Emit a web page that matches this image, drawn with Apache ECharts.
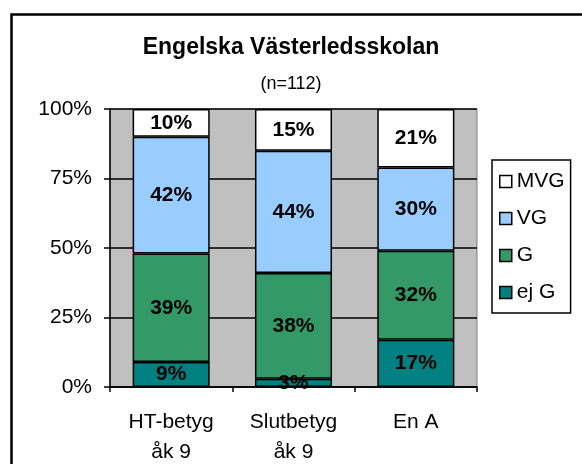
<!DOCTYPE html>
<html>
<head>
<meta charset="utf-8">
<script src="https://cdn.jsdelivr.net/npm/echarts@6/dist/echarts.min.js"></script>
<style>
  html, body { margin: 0; padding: 0; background: #fff; }
  #chart { width: 582px; height: 464px; }
</style>
</head>
<body>
<div id="chart"></div>
<script>
const categories = ['HT-betyg\nåk 9', 'Slutbetyg\nåk 9', 'En A']
const ejG = [9, 3, 17]
const G = [39, 38, 32]
const VG = [42, 44, 30]
const MVG = [10, 15, 21]
const yTicks = [0, 25, 50, 75, 100]

const font = 'Liberation Sans, Arial, sans-serif'

function bar(name, data, color) {
  return {
    type: 'bar',
    name: name,
    stack: 'total',
    data: data,
    barCategoryGap: '37%',
    itemStyle: { color: color, borderColor: '#000', borderWidth: 1.5 },
    label: {
      show: true,
      position: 'inside',
      formatter: '{c}%',
      color: '#000',
      fontWeight: 'bold',
      fontSize: 21,
      fontFamily: font,
    },
  }
}

const chart = echarts.init(document.getElementById('chart'))
chart.setOption({
  animation: false,
  textStyle: { fontFamily: font },
  graphic: [
    {
      type: 'rect',
      left: 9,
      top: 12,
      shape: { width: 620, height: 520 },
      style: { fill: 'none', stroke: '#000', lineWidth: 2.5 },
      z: 100,
    },
  ],
  title: [
    {
      text: 'Engelska Västerledsskolan',
      left: 'center',
      top: 31,
      textStyle: { fontFamily: font, fontSize: 23, fontWeight: 'bold', color: '#000' },
    },
    {
      text: '(n=112)',
      left: 'center',
      top: 70,
      textStyle: { fontFamily: font, fontSize: 18, fontWeight: 'normal', color: '#000' },
    },
  ],
  legend: {
    orient: 'vertical',
    left: 492,
    top: 160,
    width: 83,
    height: 153,
    data: ['MVG', 'VG', 'G', 'ej G'],
    icon: 'rect',
    itemWidth: 12,
    itemHeight: 12,
    itemGap: 16,
    itemTextGap: 8,
    padding: [11, 6, 10, 7],
    borderColor: '#000',
    borderWidth: 1.5,
    backgroundColor: '#fff',
    itemStyle: { borderColor: '#000', borderWidth: 1.5 },
    textStyle: { fontFamily: font, fontSize: 21, color: '#000', lineHeight: 21 },
  },
  grid: {
    left: 110,
    right: 105,
    top: 109,
    bottom: 77,
    outerBoundsMode: 'none',
    show: true,
    backgroundColor: '#c0c0c0',
    borderColor: '#808080',
    borderWidth: 1,
  },
  xAxis: {
    type: 'category',
    data: categories,
    axisLine: { lineStyle: { color: '#000', width: 1.5 } },
    axisTick: { show: true, length: 5, lineStyle: { color: '#000', width: 1.5 } },
    axisLabel: {
      color: '#000',
      fontSize: 21,
      fontFamily: font,
      lineHeight: 30,
      margin: 20,
    },
  },
  yAxis: {
    type: 'value',
    min: yTicks[0],
    max: yTicks[yTicks.length - 1],
    interval: 25,
    axisLine: { show: true, lineStyle: { color: '#000', width: 1.5 } },
    axisTick: { show: true, length: 6, lineStyle: { color: '#000', width: 1.5 } },
    axisLabel: {
      color: '#000',
      fontSize: 21,
      fontFamily: font,
      margin: 18,
      formatter: '{value}%',
    },
    splitLine: { show: true, lineStyle: { color: '#000', width: 1.5 } },
  },
  series: [
    bar('ej G', ejG, '#008080'),
    bar('G', G, '#339966'),
    bar('VG', VG, '#99ccff'),
    bar('MVG', MVG, '#ffffff'),
  ],
})
</script>
</body>
</html>
